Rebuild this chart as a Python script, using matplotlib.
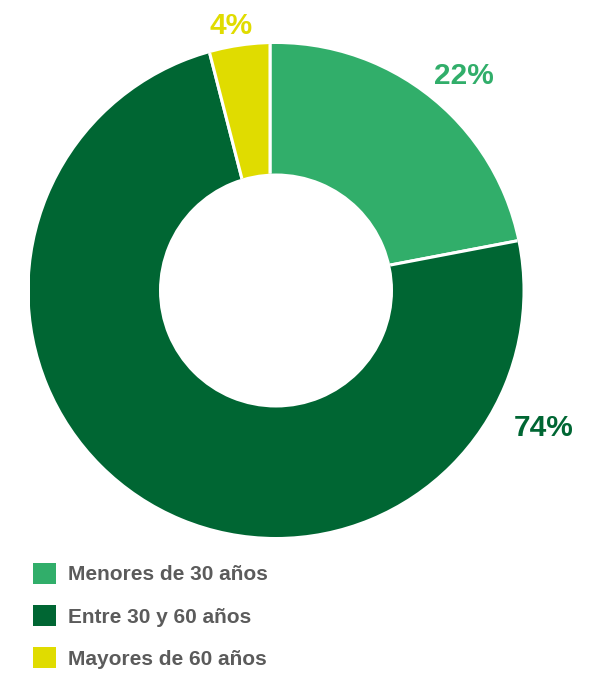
import matplotlib
matplotlib.use("Agg")
import matplotlib.pyplot as plt
from matplotlib.patches import Wedge
import numpy as np

categories = ["Menores de 30 años", "Entre 30 y 60 años", "Mayores de 60 años"]
values = [22, 74, 4]
labels = ["22%", "74%", "4%"]
colors = ["#31AE6A", "#006633", "#E0DC00"]

W, H = 608, 673
fig = plt.figure(figsize=(W / 100, H / 100), dpi=100)
plt.rcParams['font.family'] = ['Liberation Sans', 'DejaVu Sans']

cx, cy, R = 276, 290.5, 246.5
r_in = 117
ax = fig.add_axes([(cx - R) / W, (H - cy - R) / H, 2 * R / W, 2 * R / H])

# separators radiate from a point slightly off the ring centre (as in the original)
pie_center = ((270 - cx) / R, (cy - 288) / R)
wedges, _ = ax.pie(values, colors=colors, startangle=90, counterclock=False,
                   radius=1.15, center=pie_center, frame=False,
                   wedgeprops=dict(edgecolor="white", linewidth=2.2))
ax.set_xlim(-1, 1)
ax.set_ylim(-1, 1)
ax.set_aspect("equal")
ax.axis("off")

ring = Wedge((0, 0), 1.0, 0, 360, width=1 - r_in / R, transform=ax.transData)
for w in wedges:
    w.set_clip_on(True)
    w.set_clip_path(ring)

# label positions (angle deg, radius factor)
label_pos = [(48.8, 1.156), (-27.2, 1.22), (99.6, 1.09)]
for lab, col, (ang, rf) in zip(labels, colors, label_pos):
    a = np.deg2rad(ang)
    ax.text(rf * np.cos(a), rf * np.sin(a), lab, color=col, fontsize=21.5,
            fontweight="bold", ha="center", va="center", clip_on=False)

leg = fig.legend(wedges, categories, loc="upper left",
                 bbox_to_anchor=(33 / W, 1 - 563 / H), frameon=False,
                 fontsize=15, handlelength=1.1, handleheight=1.15,
                 handletextpad=0.6, labelspacing=1.0, borderpad=0, borderaxespad=0)
for t in leg.get_texts():
    t.set_color("#5b5b5b")
    t.set_fontweight("bold")
for p in leg.get_patches():
    p.set_edgecolor("none")

fig.savefig("out.png", dpi=100)
